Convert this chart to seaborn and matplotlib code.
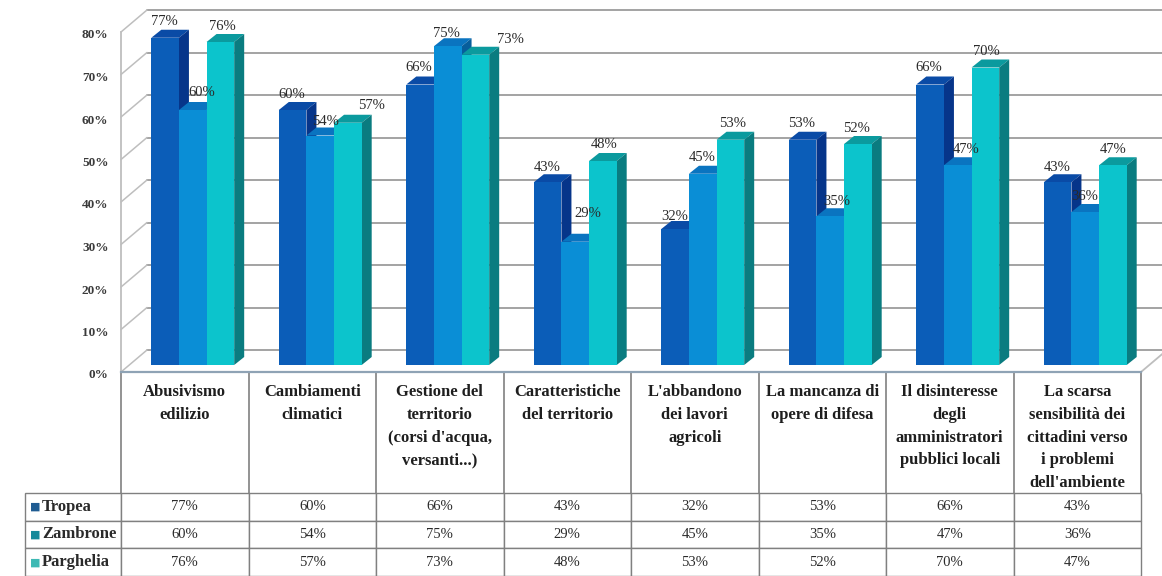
import matplotlib
matplotlib.use("Agg")
import matplotlib.pyplot as plt
import matplotlib.transforms as mtrans
from matplotlib.patches import Polygon
import pandas as pd
import seaborn as sns

categories = [
    "Abusivismo\nedilizio",
    "Cambiamenti\nclimatici",
    "Gestione del\nterritorio\n(corsi d'acqua,\nversanti...)",
    "Caratteristiche\ndel territorio",
    "L'abbandono\ndei lavori\nagricoli",
    "La mancanza di\nopere di difesa",
    "Il disinteresse\ndegli\namministratori\npubblici locali",
    "La scarsa\nsensibilità dei\ncittadini verso\ni problemi\ndell'ambiente",
]
series = ["Tropea", "Zambrone", "Parghelia"]
tropea = [77, 60, 66, 43, 32, 53, 66, 43]
zambrone = [60, 54, 75, 29, 45, 35, 47, 36]
parghelia = [76, 57, 73, 48, 53, 52, 70, 47]
y_ticks = [0, 10, 20, 30, 40, 50, 60, 70, 80]

front_colors = ["#0B5DB8", "#0A8ED6", "#0CC4CC"]
top_colors = ["#0A4BA6", "#0A74C0", "#0B9A9E"]
side_colors = ["#06358A", "#075E9C", "#0A7C80"]
key_colors = ["#1F5C92", "#14899A", "#3DB9B4"]
grid_color = "#9C9C9C"
wall_color = "#BEBEBE"
table_color = "#808080"
text_color = "#2A2A2A"

# Hand-placed value labels: shift from the top of each bar, one row per series (pixels)
label_dx = [
    [-1, -1, -1, 0, 0, -1, -1, 0],
    [9, 5, -1, 13, -1, 6, 8, -1],
    [2, 24, 35, 1, 2, -1, 1, 0],
]
label_dy = [
    [16, 16, 17, 15, 13, 16, 17, 15],
    [17, 14, 13, 28, 16, 15, 16, 16],
    [16, 17, 15, 16, 16, 15, 16, 16],
]

sns.set_theme(style="white")
plt.rcParams["font.family"] = ["Liberation Serif", "DejaVu Serif"]

W, H = 1162, 576
fig = plt.figure(figsize=(W / 100, H / 100), dpi=100, facecolor="white")
ax = fig.add_axes([121 / W, 1 - 372 / H, 1020 / W, 340 / H])
ax.patch.set_alpha(0)


def shifted(dx, dy):
    """Data transform moved by a number of pixels (y upwards)."""
    return ax.transData + mtrans.ScaledTranslation(dx / 100, dy / 100, fig.dpi_scale_trans)


df = pd.DataFrame({
    "categoria": categories * 3,
    "serie": [s for s in series for _ in categories],
    "valore": tropea + zambrone + parghelia,
})
sns.barplot(data=df, x="categoria", y="valore", hue="serie", hue_order=series,
            palette=front_colors, saturation=1, width=0.65, gap=0, legend=False,
            ax=ax, zorder=5, clip_on=False)
ax.set_xlim(-0.5, 7.5)
ax.set_ylim(0, 80)

# Size of one pixel in data units
unit_x = 8 / 1020
unit_y = 80 / 340

# Back wall and the diagonal edges of the 3D frame
DX, DY = 26, 22
back = shifted(DX, DY)
for t in y_ticks:
    ax.plot([-0.5, 7.5], [t, t], color=grid_color, lw=1.3, transform=back,
            clip_on=False, zorder=1)
    ax.plot([-0.5, -0.5 + DX * unit_x], [t, t + DY * unit_y], color=wall_color, lw=1.1,
            clip_on=False, zorder=1)
ax.plot([7.5, 7.5 + DX * unit_x], [0, DY * unit_y], color=wall_color, lw=1.3,
        clip_on=False, zorder=1)

# Bars sit part way into the depth of the frame; add their top and side faces
BX, BY = 8, 7
FX, FY = 10 * unit_x, 8 * unit_y
bar_tf = shifted(BX, BY)
for s, container in enumerate(ax.containers):
    for c, bar in enumerate(container):
        bar.set_transform(bar_tf)
        bar.set_linewidth(0)
        x0, w, v = bar.get_x(), bar.get_width(), bar.get_height()
        ax.add_patch(Polygon([(x0, v), (x0 + FX, v + FY), (x0 + w + FX, v + FY), (x0 + w, v)],
                             closed=True, fc=top_colors[s], ec="none",
                             transform=bar_tf, zorder=2 + s * 3, clip_on=False))
        ax.add_patch(Polygon([(x0 + w, 0), (x0 + w + FX, FY), (x0 + w + FX, v + FY), (x0 + w, v)],
                             closed=True, fc=side_colors[s], ec="none",
                             transform=bar_tf, zorder=2 + s * 3, clip_on=False))
        bar.set_zorder(3 + s * 3)
        ax.text(x0 + w / 2, v, f"{v:.0f}%",
                transform=shifted(BX + label_dx[s][c], BY + label_dy[s][c]),
                ha="center", va="center", fontsize=10.5, color=text_color, zorder=20)

# Axis styling
ax.set_xlabel("")
ax.set_ylabel("")
ax.set_yticks(y_ticks, [f"{t}%" for t in y_ticks], fontsize=9.5, fontweight="bold", color="#3A3A3A")
ax.set_xticks(range(len(categories)), categories, fontsize=12, fontweight="bold",
              color="#1E1E1E", linespacing=1.55)
ax.tick_params(axis="y", length=0, pad=9)
ax.tick_params(axis="x", length=0, pad=9)
label_shift = mtrans.ScaledTranslation(0, -2 / 100, fig.dpi_scale_trans)
for lbl in ax.get_yticklabels():
    lbl.set_transform(lbl.get_transform() + label_shift)
for side in ["top", "right"]:
    ax.spines[side].set_visible(False)
ax.spines["left"].set_color(wall_color)
ax.spines["left"].set_linewidth(1.3)
ax.spines["left"].set_zorder(1)
ax.spines["bottom"].set_color("#8FA3B5")
ax.spines["bottom"].set_linewidth(1.6)

# Column rules between the category names
row_top = -(493 - 372) * unit_y
ax.vlines([i - 0.5 for i in range(len(categories) + 1)], row_top, 0,
          color=table_color, lw=1.2, clip_on=False, zorder=1)

# Data table under the plot
rows = [[name] + [f"{v}%" for v in vals]
        for name, vals in zip(series, (tropea, zambrone, parghelia))]
label_w = 96 / 1116
col_w = 127.5 / 1116
table = ax.table(cellText=rows, cellLoc="center", colWidths=[label_w] + [col_w] * 8,
                 bbox=[-96 / 1020, -(576 - 372) / 340, 1116 / 1020, 83 / 340], zorder=1)
table.auto_set_font_size(False)
table.set_fontsize(10.5)
for (r, c), cell in table.get_celld().items():
    cell.set_edgecolor(table_color)
    cell.set_linewidth(1.0)
    cell.get_text().set_color(text_color)
    if c == 0:
        cell.get_text().set_ha("left")
        cell.get_text().set_fontweight("bold")
        cell.PAD = 17 / 96
        cell.get_text().set_fontsize(12)

# Colour keys in front of the series names
for r, color in enumerate(key_colors):
    yc = -(493 + 14 + r * 27.7 - 372) / 340
    ax.text(-91 / 1020, yc, "■", transform=ax.transAxes, ha="left", va="center",
            fontsize=8, color=color, family=["DejaVu Sans"], clip_on=False, zorder=10)

fig.savefig("out.png", dpi=100, facecolor="white")
